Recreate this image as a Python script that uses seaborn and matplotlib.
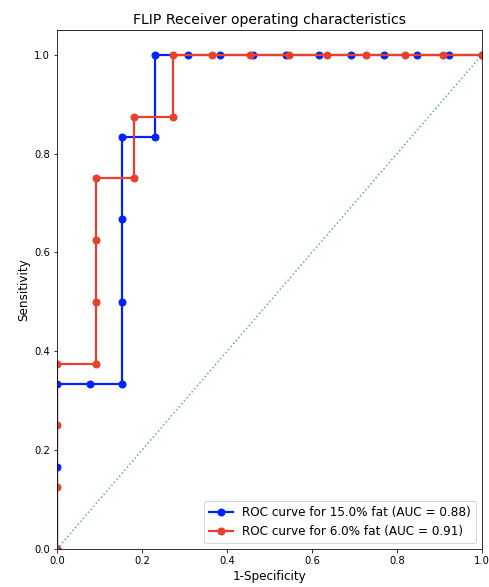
import matplotlib
matplotlib.use("Agg")
import matplotlib.pyplot as plt
import seaborn as sns
import numpy as np

# Data
fpr_15 = [0, 0, 0, 1/13, 2/13, 2/13, 2/13, 2/13, 3/13, 3/13, 4/13, 5/13, 6/13,
          7/13, 8/13, 9/13, 10/13, 11/13, 12/13, 1]
tpr_15 = [0, 1/6, 2/6, 2/6, 2/6, 3/6, 4/6, 5/6, 5/6, 1, 1, 1, 1,
          1, 1, 1, 1, 1, 1, 1]
fpr_6 = [0, 0, 0, 0, 1/11, 1/11, 1/11, 1/11, 2/11, 2/11, 3/11, 3/11, 4/11,
         5/11, 6/11, 7/11, 8/11, 9/11, 10/11, 1]
tpr_6 = [0, 1/8, 2/8, 3/8, 3/8, 4/8, 5/8, 6/8, 6/8, 7/8, 7/8, 1, 1,
         1, 1, 1, 1, 1, 1, 1]
chance = [0, 1]
label_15 = "ROC curve for 15.0% fat (AUC = 0.88)"
label_6 = "ROC curve for 6.0% fat (AUC = 0.91)"

DPI = 72
fig = plt.figure(figsize=(489 / DPI, 587 / DPI), dpi=DPI)
ax = fig.add_axes([57 / 489, 1 - 549 / 587, (482 - 57) / 489, (549 - 30) / 587])

blue = "#0022ff"
red = "#e8412b"
sns.lineplot(x=fpr_15, y=tpr_15, sort=False, estimator=None, marker="o",
             color=blue, linewidth=2.2, markersize=7, markeredgecolor=blue,
             markeredgewidth=1, label=label_15, ax=ax)
sns.lineplot(x=fpr_6, y=tpr_6, sort=False, estimator=None, marker="o",
             color=red, linewidth=2.2, markersize=7, markeredgecolor=red,
             markeredgewidth=1, label=label_6, ax=ax)
sns.lineplot(x=chance, y=chance, sort=False, estimator=None, color="#1f77b4",
             alpha=0.7, linestyle=":", linewidth=1.5, ax=ax)

ax.set_xlim(0, 1)
ax.set_ylim(0, 1.05)
ax.set_xticks([0, 0.2, 0.4, 0.6, 0.8, 1.0])
ax.set_yticks([0, 0.2, 0.4, 0.6, 0.8, 1.0])
ax.tick_params(labelsize=10)
ax.set_xlabel("1-Specificity", fontsize=12)
ax.set_ylabel("Sensitivity", fontsize=12)
ax.set_title("FLIP Receiver operating characteristics", fontsize=14)
ax.legend(loc="lower right", fontsize=12)

fig.savefig("out.png", dpi=DPI)
